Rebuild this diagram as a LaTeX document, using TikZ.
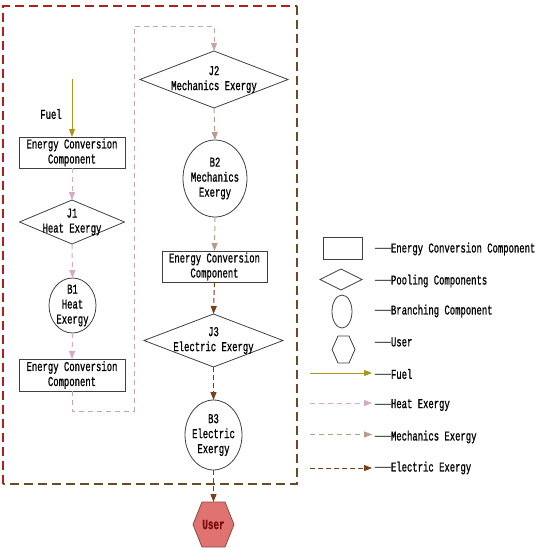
\documentclass[tikz,border=0pt]{standalone}
\usepackage{fontspec}
\setmainfont{Liberation Mono}[FakeStretch=0.66,FakeBold=0.9]
\newfontfamily\dashfont{Liberation Serif}
\usetikzlibrary{arrows.meta,shapes.geometric,backgrounds}
\definecolor{fuelc}{HTML}{A8961E}
\definecolor{heatc}{HTML}{D8A8C8}
\definecolor{mechc}{HTML}{BC9A88}
\definecolor{elecc}{HTML}{7A3E1A}
\definecolor{loopc}{HTML}{C9A4A4}
\definecolor{borderred}{HTML}{B01E1E}
\definecolor{borderbrown}{HTML}{6B4A26}
\definecolor{userfill}{HTML}{E07272}
\definecolor{userdraw}{HTML}{8A4A3A}
\definecolor{usertext}{HTML}{7A0A0A}
\newcommand{\legdash}{{\dashfont\fontsize{16}{16}\selectfont —}}
\begin{document}
\begin{tikzpicture}[x=1pt,y=-1pt,
  every node/.style={font=\fontsize{13.5}{15}\selectfont, align=center, inner sep=0pt, outer sep=0pt},
  shapeline/.style={draw=black!75, line width=0.8pt},
  ecc/.style={shapeline, rectangle},
  pool/.style={shapeline, diamond},
  branch/.style={shapeline, ellipse},
  hexa/.style={rectangle},
  tip/.style={-{Triangle[length=8pt,width=6pt]}},
  fuelflow/.style={tip, draw=fuelc, line width=1pt},
  heatflow/.style={tip, draw=heatc, line width=1pt, dash pattern=on 5pt off 4pt},
  mechflow/.style={tip, draw=mechc, line width=1pt, dash pattern=on 5pt off 4pt},
  elecflow/.style={tip, draw=elecc, line width=1pt, dash pattern=on 5pt off 3pt},
  loopflow/.style={tip, draw=loopc, line width=1pt, dash pattern=on 5pt off 4pt},
  legtext/.style={anchor=west}
]
\useasboundingbox (0,0) rectangle (537,550);

% outer border
\coordinate (btl) at (3,6);
\coordinate (btr) at (297,6);
\coordinate (bbl) at (3,484);
\coordinate (bbr) at (297,484);
\draw[borderred, line width=1.3pt, dash pattern=on 9pt off 5pt] (bbl) -- (btl) -- (btr);
\draw[borderbrown, line width=1.3pt, dash pattern=on 9pt off 5pt] (btr) -- (bbr) -- (bbl);

% left column
\node (fueltxt) at (51,114) {Fuel};
\coordinate (fuelstart) at (72,79);
\node[ecc, minimum width=106pt, minimum height=31pt] (ecc1) at (72,152.5) {Energy Conversion\\Component};
\node[pool, minimum width=105pt, minimum height=44pt, label={[align=center]center:{J1\\Heat Exergy}}] (j1) at (72,222) {};
\node[branch, minimum width=47pt, minimum height=55pt, label={[align=center]center:{B1\\Heat\\Exergy}}] (b1) at (72.5,305.5) {};
\node[ecc, minimum width=106pt, minimum height=32pt] (ecc2) at (72,375) {Energy Conversion\\Component};

% right column
\node[pool, minimum width=148pt, minimum height=57pt, label={[align=center]center:{J2\\Mechanics Exergy}}] (j2) at (214,79.5) {};
\node[branch, minimum width=64pt, minimum height=77pt, label={[align=center]center:{B2\\Mechanics\\Exergy}}] (b2) at (215,178.5) {};
\node[ecc, minimum width=105pt, minimum height=31pt] (ecc3) at (214.5,266.5) {Energy Conversion\\Component};
\node[pool, minimum width=139pt, minimum height=53pt, label={[align=center]center:{J3\\Electric Exergy}}] (j3) at (213.5,340.5) {};
\node[branch, minimum width=57pt, minimum height=70pt, label={[align=center]center:{B3\\Electric\\Exergy}}] (b3) at (213.5,435) {};
\node[hexa, minimum width=41pt, minimum height=45pt, text=usertext, font=\fontsize{14}{15}\selectfont\bfseries] (user) at (213.5,524.5) {User};
\begin{scope}[on background layer]
\draw[fill=userfill, draw=userdraw, line width=0.8pt] (user.west) -- ([xshift=9pt]user.north west) -- ([xshift=-9pt]user.north east) -- (user.east) -- ([xshift=-9pt]user.south east) -- ([xshift=9pt]user.south west) -- cycle;
\end{scope}

% loop coordinates
\coordinate (l1) at (72,411);
\coordinate (l2) at (134,411);
\coordinate (l3) at (134,26);
\coordinate (l4) at (214,26);

% flows
\draw[fuelflow] (fuelstart) -- (ecc1.north);
\draw[heatflow] (ecc1.south) -- (j1.north);
\draw[heatflow] (j1.south) -- (b1.north);
\draw[heatflow] (b1.south) -- (ecc2.north);
\draw[loopflow] (ecc2.south) -- (l1) -- (l2) -- (l3) -- (l4) -- (j2.north);
\draw[mechflow] (j2.south) -- (b2.north);
\draw[mechflow] (b2.south) -- (ecc3.north);
\draw[elecflow] (ecc3.south) -- (j3.north);
\draw[elecflow] (j3.south) -- (b3.north);
\draw[elecflow] (b3.south) -- (user.north);

% legend
\node[ecc, minimum width=39pt, minimum height=22pt] (lrect) at (342.5,248) {};
\node[pool, minimum width=42pt, minimum height=21pt] (ldiam) at (341,279.5) {};
\node[branch, minimum width=20pt, minimum height=33pt] (lell) at (342,311.5) {};
\node[hexa, minimum width=23pt, minimum height=27pt] (lhex) at (343.5,349.5) {};
\draw[shapeline] (lhex.west) -- ([xshift=6pt]lhex.north west) -- ([xshift=-6pt]lhex.north east) -- (lhex.east) -- ([xshift=-6pt]lhex.south east) -- ([xshift=6pt]lhex.south west) -- cycle;

\coordinate (lf1) at (310,373); \coordinate (lf2) at (372,373);
\coordinate (lh1) at (310,403); \coordinate (lh2) at (372,403);
\coordinate (lm1) at (310,434.5); \coordinate (lm2) at (372,434.5);
\coordinate (le1) at (310,468); \coordinate (le2) at (372,468);
\draw[fuelflow] (lf1) -- (lf2);
\draw[heatflow] (lh1) -- (lh2);
\draw[mechflow] (lm1) -- (lm2);
\draw[elecflow] (le1) -- (le2);

\node[legtext] (t1) at (375,249) {\legdash Energy Conversion Component};
\node[legtext] (t2) at (375,281) {\legdash Pooling Components};
\node[legtext] (t3) at (375,311) {\legdash Branching Component};
\node[legtext] (t4) at (375,342) {\legdash User};
\node[legtext] (t5) at (375,374) {\legdash Fuel};
\node[legtext] (t6) at (375,405) {\legdash Heat Exergy};
\node[legtext] (t7) at (375,437) {\legdash Mechanics Exergy};
\node[legtext] (t8) at (375,468) {\legdash Electric Exergy};
\end{tikzpicture}
\end{document}
